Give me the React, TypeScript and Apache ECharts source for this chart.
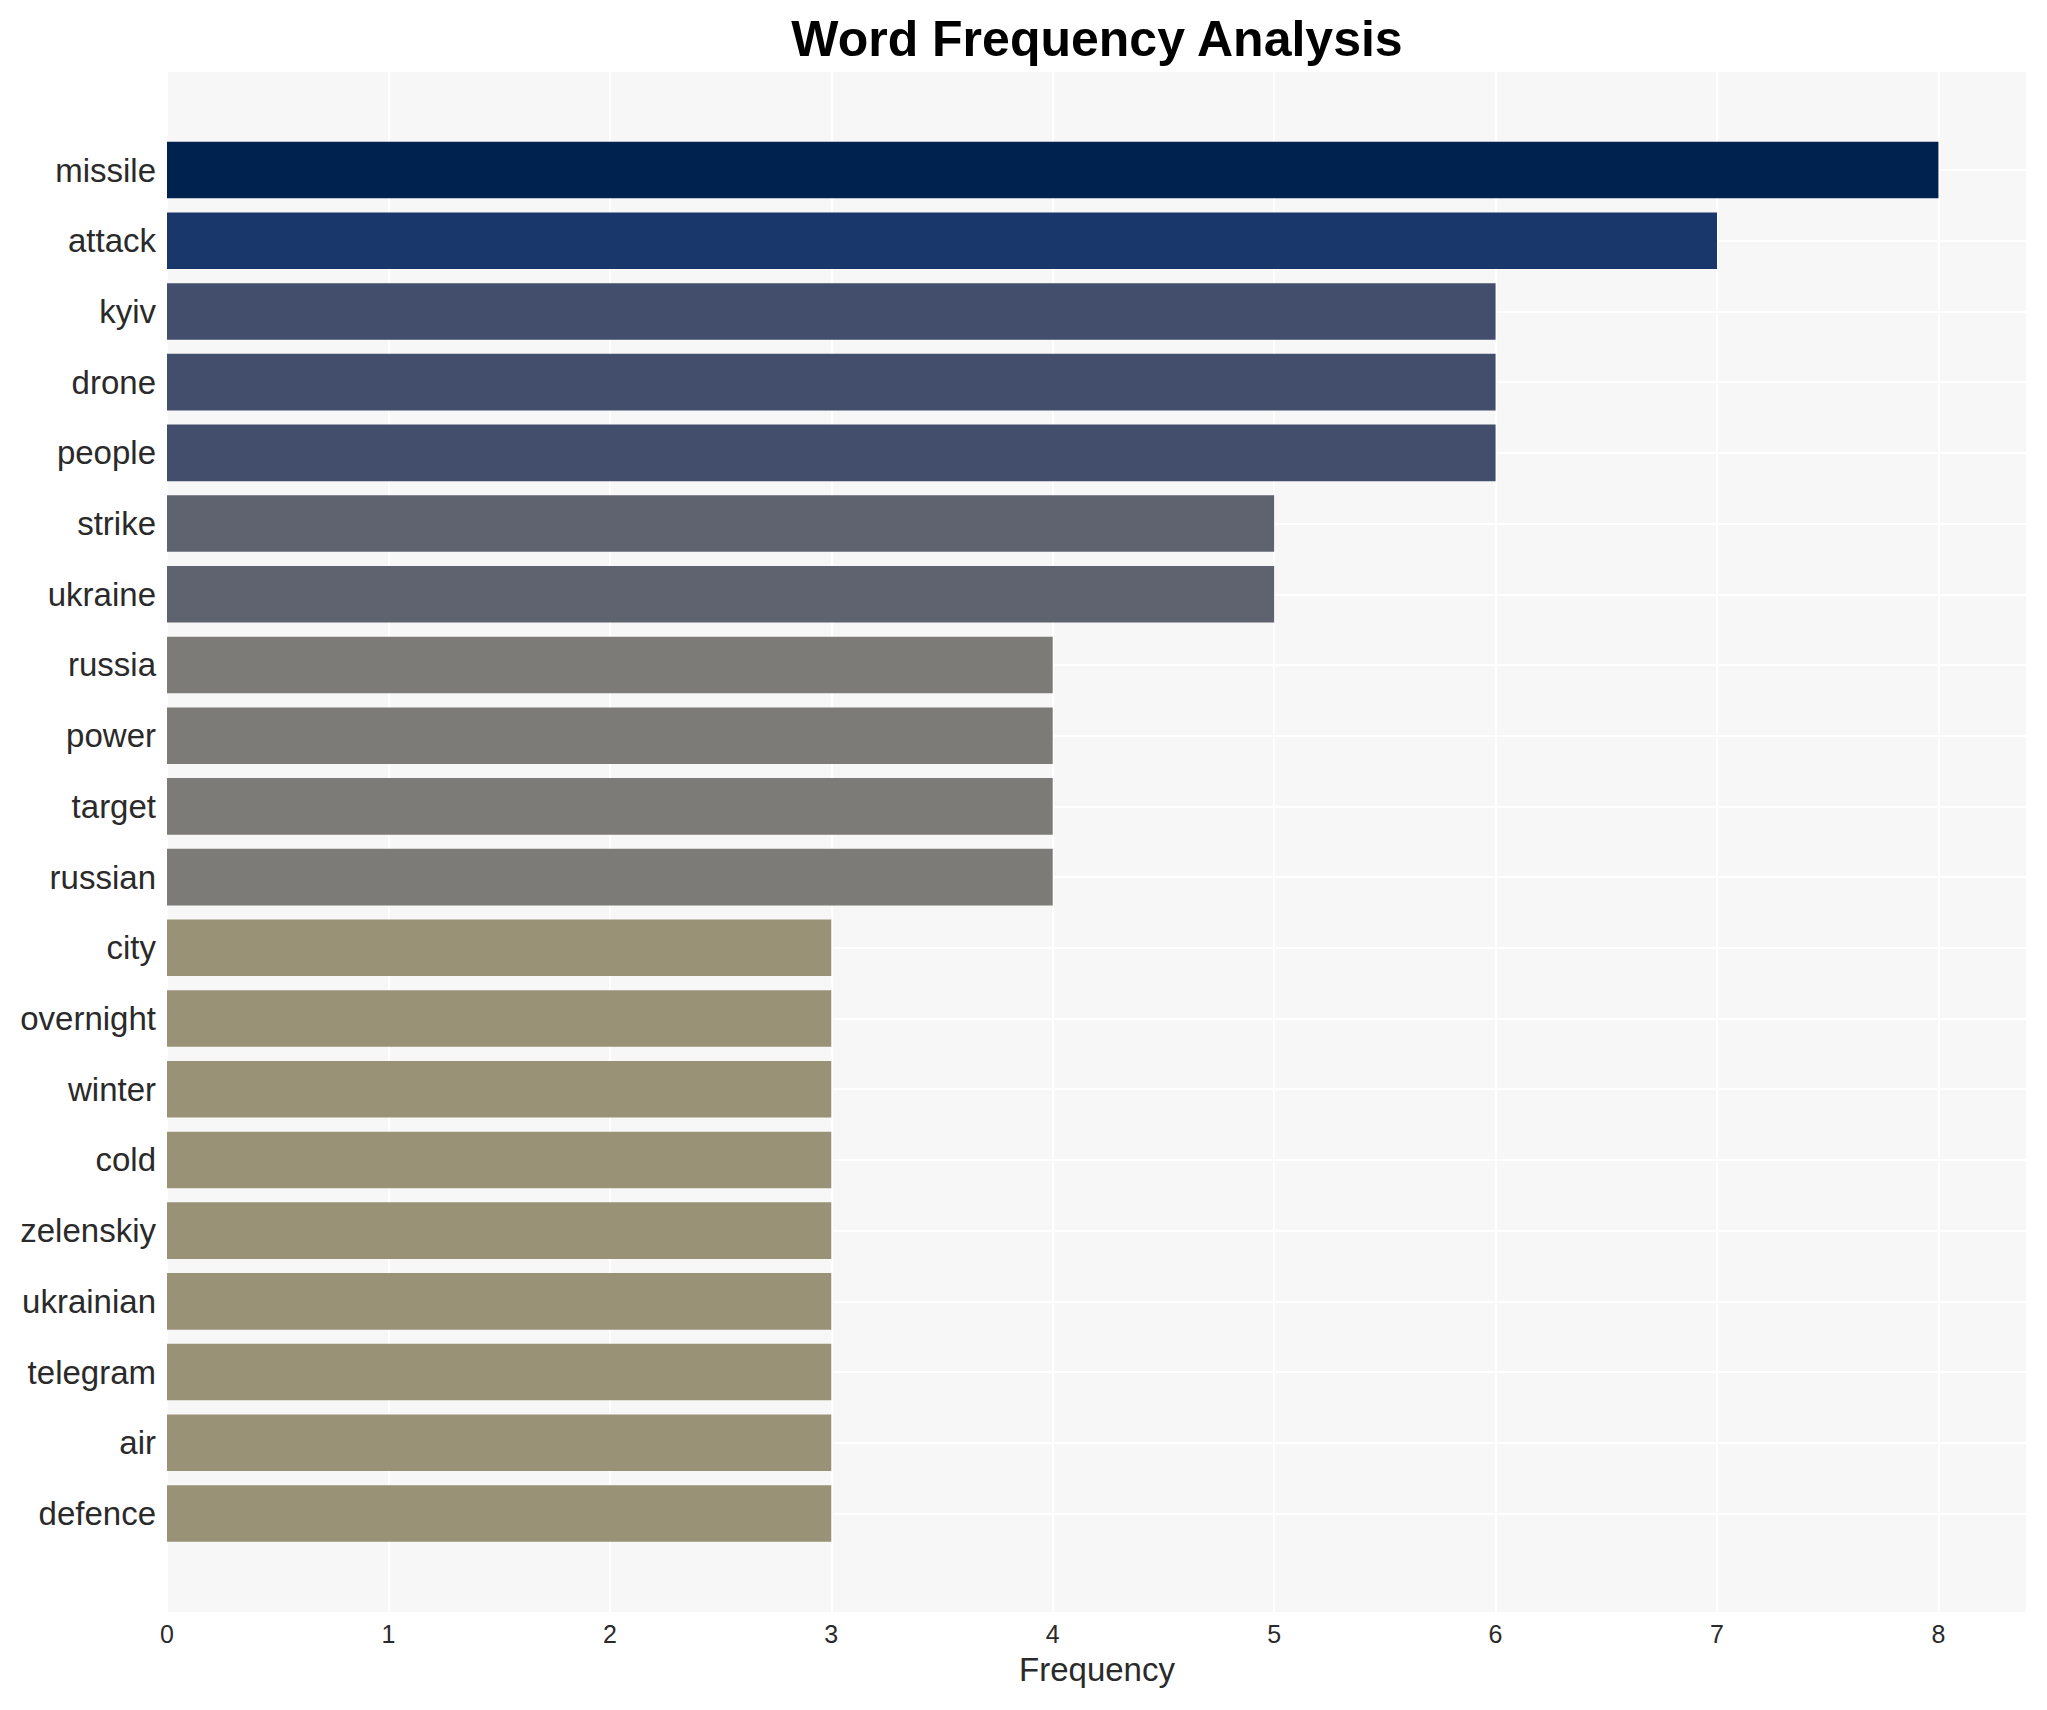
import React, { useEffect, useRef } from "react";
import * as echarts from "echarts";

const words = [
  "missile", "attack", "kyiv", "drone", "people", "strike", "ukraine", "russia",
  "power", "target", "russian", "city", "overnight", "winter", "cold", "zelenskiy",
  "ukrainian", "telegram", "air", "defence",
];
const counts = [8, 7, 6, 6, 6, 5, 5, 4, 4, 4, 4, 3, 3, 3, 3, 3, 3, 3, 3, 3];
const colorByCount: Record<number, string> = {
  8: "#00224e",
  7: "#1a376c",
  6: "#434e6c",
  5: "#5f636f",
  4: "#7c7b78",
  3: "#9a9276",
};
const xTicks = [0, 1, 2, 3, 4, 5, 6, 7, 8];

const FONT = "'Liberation Sans', Arial, Helvetica, sans-serif";

export default function App() {
  const ref = useRef<HTMLDivElement>(null);
  useEffect(() => {
    if (!ref.current) return;
    const chart = echarts.init(ref.current, null, { renderer: "svg" });
    const xMax = 8.4;
    chart.setOption({
      animation: false,
      backgroundColor: "#ffffff",
      title: {
        text: "Word Frequency Analysis",
        left: 1092,
        top: 9,
        textAlign: "center",
        textStyle: { fontFamily: FONT, fontSize: 50, fontWeight: "bold", color: "#000" },
      },
      grid: [
        {
          left: 167, right: 20, top: 72, bottom: 98,
          show: true, backgroundColor: "#f7f7f7", borderWidth: 0,
        },
        { left: 167, right: 20, top: 170, bottom: 196.5, show: false },
      ],
      xAxis: [
        {
          gridIndex: 0,
          type: "value",
          min: 0,
          max: xMax,
          interval: 1,
          axisLine: { show: false },
          axisTick: { show: false },
          splitLine: { show: true, lineStyle: { color: "#ffffff", width: 2 } },
          axisLabel: {
            showMaxLabel: false,
            margin: 9,
            fontFamily: FONT,
            fontSize: 25,
            color: "#2a2a2a",
            formatter: (v: number) => (xTicks.includes(v) ? String(v) : ""),
          },
          name: "Frequency",
          nameLocation: "middle",
          nameGap: 41,
          nameTextStyle: { fontFamily: FONT, fontSize: 33, color: "#2a2a2a", verticalAlign: "top" },
        },
        {
          gridIndex: 1,
          type: "value",
          min: 0,
          max: xMax,
          show: false,
        },
      ],
      yAxis: [
        { gridIndex: 0, type: "value", min: 0, max: 1, show: false },
        {
          gridIndex: 1,
          type: "category",
          data: words,
          inverse: true,
          boundaryGap: false,
          axisLine: { show: false },
          axisTick: { show: false },
          splitLine: { show: true, lineStyle: { color: "#ffffff", width: 2 } },
          axisLabel: {
            margin: 11,
            fontFamily: FONT,
            fontSize: 33,
            color: "#2a2a2a",
          },
        },
      ],
      series: [
        {
          type: "bar",
          xAxisIndex: 1,
          yAxisIndex: 1,
          barWidth: "80%",
          clip: false,
          data: counts.map((c) => ({ value: c, itemStyle: { color: colorByCount[c] } })),
        },
      ],
    });
    return () => chart.dispose();
  }, []);
  return (
    <div
      ref={ref}
      style={{ position: "fixed", left: 0, top: 0, width: 2047, height: 1710 }}
    />
  );
}
